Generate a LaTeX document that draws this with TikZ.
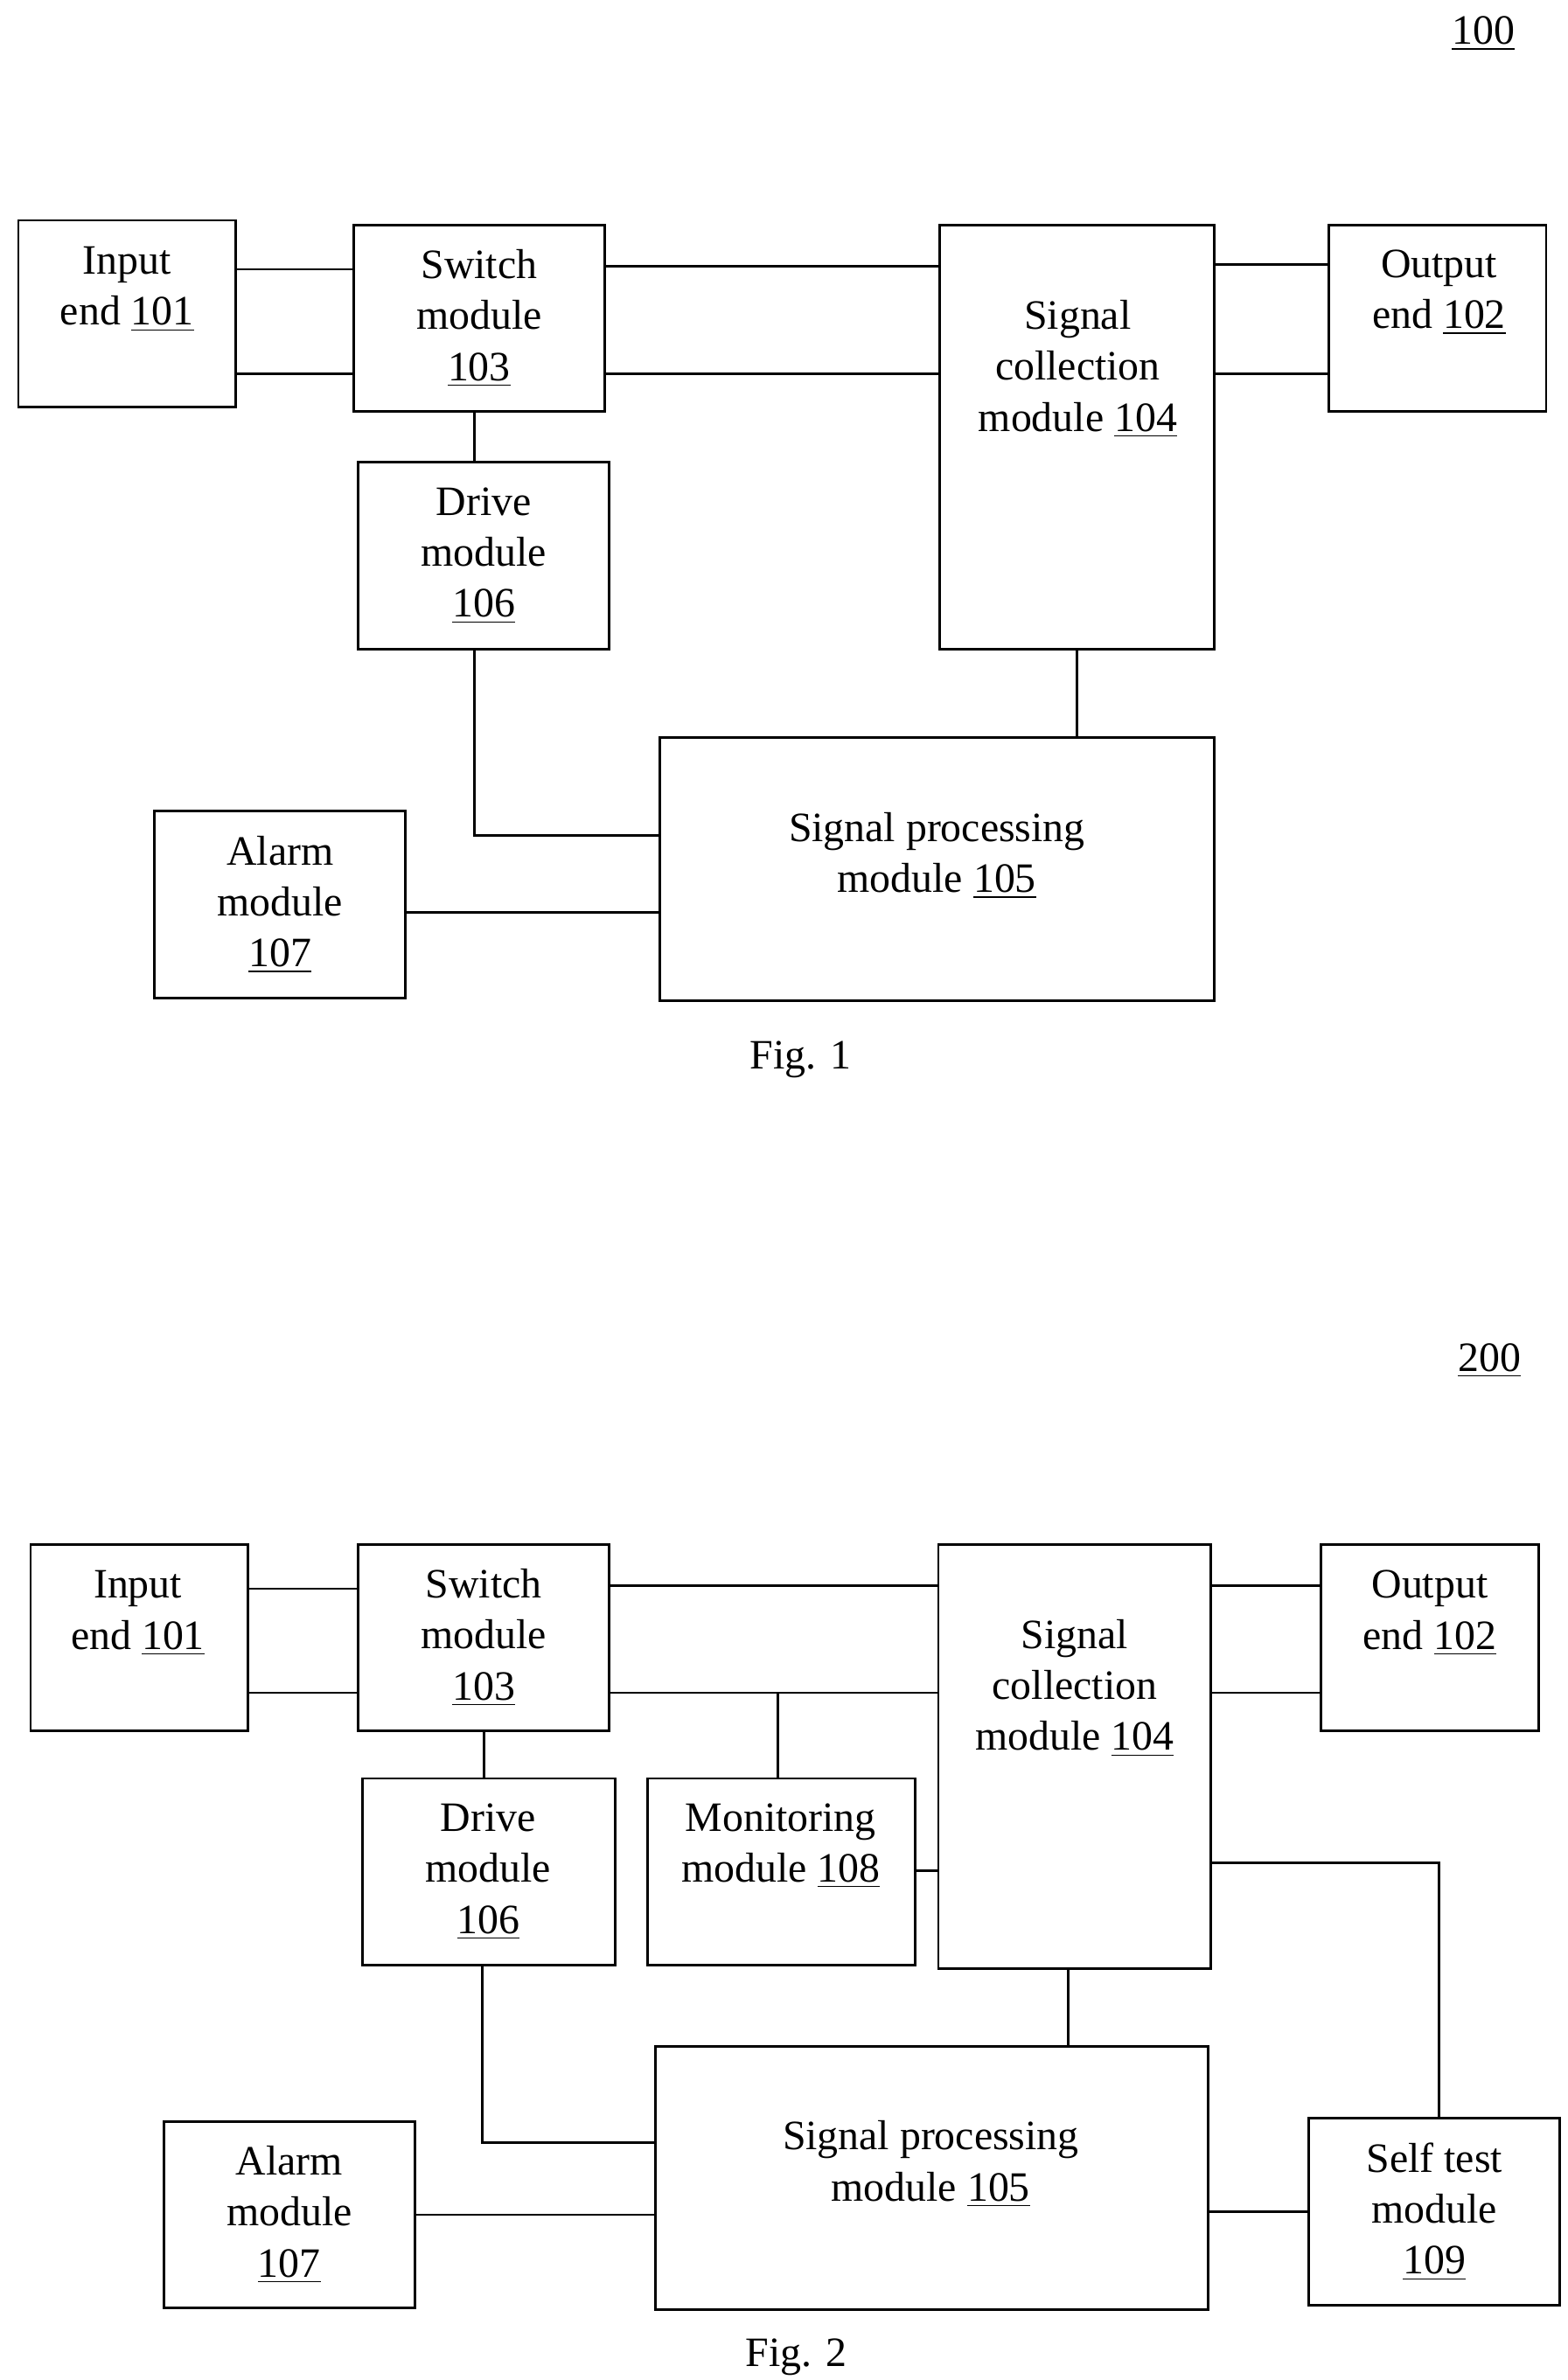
\documentclass[tikz,border=0pt]{standalone}
\usepackage{fontspec}
\setmainfont{Liberation Serif}
\usetikzlibrary{fit}
\begin{document}
\begin{tikzpicture}[x=0.0175cm,y=-0.0175cm,
    box/.style={draw, line width=0.8pt, inner sep=0pt},
    txt/.style={align=center, font=\fontsize{13.6}{16.6}\selectfont},
    wire/.style={line width=0.8pt}]
\useasboundingbox (0,0) rectangle (1024,1555);

% Fig. 1
\node[txt] (n100) at (969,22) {\underline{100}};
\node[box, fit={(12,144) (154,266)}] (in1) {};
\node[txt] (in1t) at (83,189) {Input\\end \underline{101}};
\node[box, fit={(231,147) (395,269)}] (sw1) {};
\node[txt] (sw1t) at (313,208) {Switch\\module\\\underline{103}};
\node[box, fit={(614,147) (793,424)}] (sc1) {};
\node[txt] (sc1t) at (704,241) {Signal\\collection\\module \underline{104}};
\node[box, fit={(868,147) (1010,269)}] (out1) {};
\node[txt] (out1t) at (940,191) {Output\\end \underline{102}};
\node[box, fit={(234,302) (398,424)}] (dr1) {};
\node[txt] (dr1t) at (316,363) {Drive\\module\\\underline{106}};
\node[box, fit={(431,482) (793,654)}] (sp1) {};
\node[txt] (sp1t) at (612,559) {Signal processing\\module \underline{105}};
\node[box, fit={(101,530) (265,652)}] (al1) {};
\node[txt] (al1t) at (183,591) {Alarm\\module\\\underline{107}};
\node[txt] (fig1) at (523,692) {Fig. 1};

\draw[wire] (in1.east |- 0,176) -- (sw1.west |- 0,176);
\draw[wire] (in1.east |- 0,244) -- (sw1.west |- 0,244);
\draw[wire] (sw1.east |- 0,174) -- (sc1.west |- 0,174);
\draw[wire] (sw1.east |- 0,244) -- (sc1.west |- 0,244);
\draw[wire] (sc1.east |- 0,173) -- (out1.west |- 0,173);
\draw[wire] (sc1.east |- 0,244) -- (out1.west |- 0,244);
\draw[wire] (sw1.south -| 310,0) -- (dr1.north -| 310,0);
\draw[wire] (sc1.south) -- (sp1.north -| sc1.south);
\draw[wire] (dr1.south -| 310,0) |- (sp1.west |- 0,546);
\draw[wire] (al1.east |- 0,596) -- (sp1.west |- 0,596);

% Fig. 2
\node[txt] (n200) at (973,889) {\underline{200}};
\node[box, fit={(20,1009) (162,1131)}] (in2) {};
\node[txt] (in2t) at (90,1054) {Input\\end \underline{101}};
\node[box, fit={(234,1009) (398,1131)}] (sw2) {};
\node[txt] (sw2t) at (316,1070) {Switch\\module\\\underline{103}};
\node[box, fit={(613,1009) (791,1286)}] (sc2) {};
\node[txt] (sc2t) at (702,1103) {Signal\\collection\\module \underline{104}};
\node[box, fit={(863,1009) (1005,1131)}] (out2) {};
\node[txt] (out2t) at (934,1054) {Output\\end \underline{102}};
\node[box, fit={(237,1162) (402,1284)}] (dr2) {};
\node[txt] (dr2t) at (319,1223) {Drive\\module\\\underline{106}};
\node[box, fit={(423,1162) (598,1284)}] (mo2) {};
\node[txt] (mo2t) at (510,1206) {Monitoring\\module \underline{108}};
\node[box, fit={(428,1337) (789,1509)}] (sp2) {};
\node[txt] (sp2t) at (608,1414) {Signal processing\\module \underline{105}};
\node[box, fit={(107,1386) (271,1508)}] (al2) {};
\node[txt] (al2t) at (189,1447) {Alarm\\module\\\underline{107}};
\node[box, fit={(855,1384) (1019,1506)}] (st2) {};
\node[txt] (st2t) at (937,1445) {Self test\\module\\\underline{109}};
\node[txt] (fig2) at (520,1540) {Fig. 2};

\draw[wire] (in2.east |- 0,1038) -- (sw2.west |- 0,1038);
\draw[wire] (in2.east |- 0,1106) -- (sw2.west |- 0,1106);
\draw[wire] (sw2.east |- 0,1036) -- (sc2.west |- 0,1036);
\draw[wire] (sw2.east |- 0,1106) -- (sc2.west |- 0,1106);
\draw[wire] (sc2.east |- 0,1036) -- (out2.west |- 0,1036);
\draw[wire] (sc2.east |- 0,1106) -- (out2.west |- 0,1106);
\draw[wire] (mo2.north -| 508,0) -- (508,1106);
\draw[wire] (mo2.east |- 0,1222) -- (sc2.west |- 0,1222);
\draw[wire] (sw2.south -| 316,0) -- (dr2.north -| 316,0);
\draw[wire] (sc2.south -| 698,0) -- (sp2.north -| 698,0);
\draw[wire] (dr2.south -| 315,0) |- (sp2.west |- 0,1400);
\draw[wire] (al2.east |- 0,1447) -- (sp2.west |- 0,1447);
\draw[wire] (sp2.east |- 0,1445) -- (st2.west |- 0,1445);
\draw[wire] (sc2.east |- 0,1217) -| (st2.north -| 940,0);
\end{tikzpicture}
\end{document}
